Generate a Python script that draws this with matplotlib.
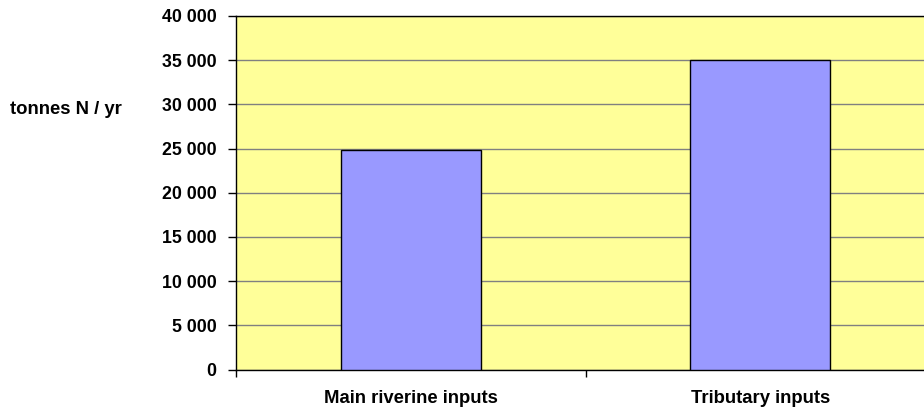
import numpy as np
import matplotlib.pyplot as plt
from matplotlib.ticker import FuncFormatter

categories = ["Main riverine inputs", "Tributary inputs"]
values = [24800, 35000]
y_ticks = list(range(0, 40001, 5000))

plt.rcParams['font.family'] = ['Liberation Sans', 'DejaVu Sans']

fig = plt.figure(figsize=(9.24, 4.07), dpi=100)
# plot area runs past the right edge of the picture, like the original
ax = fig.add_axes([236/924, 1-369.5/407, 699/924, 353.5/407])
ax.set_facecolor("#FFFF99")

x = np.arange(len(categories))
ax.bar(x, values, width=0.4, color="#9999FF", edgecolor="black", linewidth=1, zorder=3)

ax.set_xlim(-0.5, len(categories)-0.5)
ax.set_ylim(0, 40000)
ax.set_yticks(y_ticks)
ax.yaxis.set_major_formatter(FuncFormatter(lambda v, p: f"{int(v):,}".replace(",", " ")))
ax.grid(axis="y", color="#808080", linewidth=1, zorder=1)

ax.set_xticks(np.arange(-0.5, len(categories), 1.0))
ax.set_xticklabels([])
ax.set_xticks(x, minor=True)
ax.set_xticklabels(categories, minor=True, fontsize=13.3, fontweight="bold")
ax.tick_params(axis="x", which="minor", length=0, pad=15)
ax.tick_params(axis="x", which="major", length=5, width=1, direction="out")
ax.tick_params(axis="y", length=6, width=1, direction="out", pad=8, labelsize=12.8)
for lab in ax.get_yticklabels():
    lab.set_fontweight("bold")

for s in ["left", "bottom", "top", "right"]:
    ax.spines[s].set_color("black")
    ax.spines[s].set_linewidth(1)

fig.text(66/924, 1-110/407, "tonnes N / yr", fontsize=13.3, fontweight="bold",
         ha="center", va="center")

fig.savefig("out.png", dpi=100)
